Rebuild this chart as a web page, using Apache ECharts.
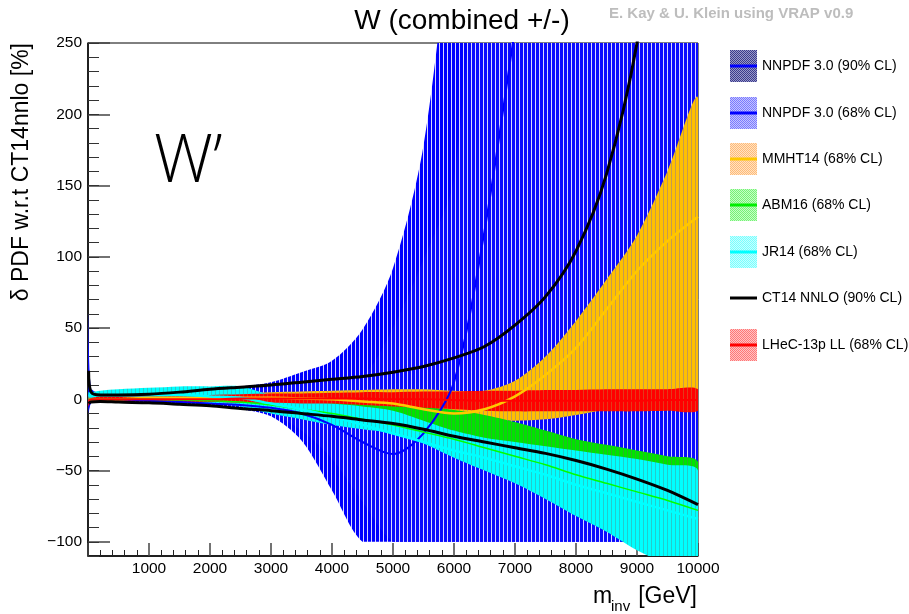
<!DOCTYPE html>
<html><head><meta charset="utf-8">
<script src="https://cdn.jsdelivr.net/npm/echarts@6/dist/echarts.min.js"></script>
<style>html,body{margin:0;padding:0;background:#fff}#c{width:909px;height:614px}</style>
</head><body><div id="c"></div>
<script>
// ---- data (m_inv in GeV, delta PDF in %) ----
const mass = [10, 50, 200, 500, 1000, 1500, 2000, 2500, 3000, 3500, 4000, 4500, 5000, 5500, 6000, 6500, 7000, 7500, 8000, 8500, 9000, 9500, 10000];

const nnpdf90Up = [60, 8, 4, 3, 4, 5, 7, 9, 12, 19, 27, 49, 92, 178, 350, 500, 650, 800, 950, 1100, 1250, 1400, 1550];
const nnpdf90Lo = [-10, -3, -2, -2, -3, -4, -5, -7, -12, -29, -64, -100, -100, -100, -100, -100, -100, -100, -100, -100, -100, -100, -100];
const nnpdf68Up = [40, 5, 3, 2, 3, 4, 5, 6, 8, 11, 14, 16, 50, 98, 155, 400, 550, 700, 850, 1000, 1150, 1300, 1450];
const nnpdf68Lo = [-8, -2, -1.5, -1.5, -2, -3, -4, -6, -10, -22, -42, -72, -100, -100, -100, -100, -100, -100, -100, -100, -100, -100, -100];
const nnpdfCen  = [0, 0, 0, 0, -1, -2, -3, -4, -6, -10, -18, -30, -38.5, -24, 12, 118, 260, 400, 550, 700, 850, 1000, 1150];

const mmhtUp  = [1, 1, 1, 1, 3, 3.5, 4, 4.5, 5, 5.5, 6, 6.5, 7, 7, 6, 6, 13, 30, 55, 84, 115, 160, 211];
const mmhtLo  = [-1, -1, -1, -1, -1, -1.5, -2, -2.5, -3, -3.5, -4, -5, -6, -8, -10, -14, -15, -14, -11, -7, -3, 0, 2];
const mmhtCen = [0, 0, 0, 0, 1, 1, 1, 1, 1, 0.5, 0, -1.5, -3, -7, -10, -7, 2, 17, 36, 63, 90, 111, 128];

const abmUp  = [1, 1, 1, 1, 2, 2, 2, 1.5, 1, 0, -0.5, -1.5, -3, -5, -7.5, -11, -16, -22, -28, -32, -36, -40, -44];
const abmLo  = [-1, -1, -1, -1, -1, -1.5, -2, -3, -6, -9, -13, -17, -21, -28, -35, -43, -51, -59, -67, -75, -82, -90, -96];
const abmCen = [0, 0, 0, 0, 0, -0.5, -1, -2, -4, -7, -10, -14, -18, -23, -28, -34, -40, -46, -53, -59, -65, -71, -78];

const jrUp  = [5, 5, 6, 7, 8, 9, 9, 9, 3, -1, -3, -5, -8, -15, -22, -27, -30, -33, -36, -39, -42, -46, -50];
const jrLo  = [-1, -1, -1, -1, -1, -2, -3, -5, -10, -14, -18, -21, -24, -31, -41, -50, -59, -70, -82, -93, -106, -116, -125];
const jrCen = [2, 2, 3, 3, 3, 3, 2, 1, -3, -7, -12, -18, -24, -30, -36, -41, -47, -53, -60, -66, -72, -78, -84];

const ctUp = [20, 5, 3, 3, 3.5, 5, 7, 8.5, 10, 12, 14, 16, 19, 23, 29, 37, 52, 72, 104, 158, 250, 400, 600];
const ctLo = [-3, -2, -1.5, -2, -2.5, -3.5, -4.5, -6.5, -8, -10, -12, -14.5, -17, -21, -26, -30, -34, -38, -43, -49, -56, -64, -74];

const lhecUp  = [2, 2, 2, 2, 2, 2.5, 3, 3.5, 4, 4, 4.5, 5, 5, 5.5, 5.5, 6, 6, 6.5, 6.5, 7, 7, 7, 7];
const lhecLo  = [-5, -2, -1.5, -1.5, -1.5, -2, -2, -2.5, -2.5, -3, -3, -4, -5, -6, -7, -8, -8.5, -8.5, -8.5, -8.5, -8.5, -8, -8];
const lhecCen = [-1, 0, 0, 0, 0, 0, 0, 0.5, 0.5, 0.5, 0.5, 0.5, 0, 0, -0.5, -1, -1, -1, -1, -1, -1, -0.5, -0.5];

const yTicks = [-100, -50, 0, 50, 100, 150, 200, 250];
const legendNames = ['NNPDF 3.0 (90% CL)', 'NNPDF 3.0 (68% CL)', 'MMHT14 (68% CL)', 'ABM16 (68% CL)', 'JR14 (68% CL)', 'CT14 NNLO (90% CL)', 'LHeC-13p LL (68% CL)'];

// ---- styling helpers ----
function stripes(c, g) {
  const cv = document.createElement('canvas'); cv.width = 4; cv.height = 4;
  const x = cv.getContext('2d');
  x.fillStyle = g; x.fillRect(0, 0, 4, 4);
  x.fillStyle = c; x.fillRect(0, 0, 3, 4);
  return { image: cv, repeat: 'repeat' };
}
function checker(c, g) {
  const cv = document.createElement('canvas'); cv.width = 2; cv.height = 2;
  const x = cv.getContext('2d');
  x.fillStyle = g; x.fillRect(0, 0, 2, 2);
  x.fillStyle = c; x.fillRect(0, 0, 1, 1); x.fillRect(1, 1, 1, 1);
  return { image: cv, repeat: 'repeat' };
}

function band(name, lo, hi, fill, floorVal) {
  return {
    type: 'custom', name: name,
    data: mass.map((m, i) => [m, lo[i], hi[i]]),
    encode: { x: 0, y: [1, 2] },
    renderItem: function (params, api) {
      if (params.dataIndex !== 0) return null;
      const pts = [];
      for (let i = 0; i < mass.length; i++) pts.push(api.coord([mass[i], hi[i]]));
      for (let i = mass.length - 1; i >= 0; i--) pts.push(api.coord([mass[i], lo[i]]));
      const cs = params.coordSys;
      const shape = { points: pts, smooth: 0.3 };
      if (floorVal !== undefined) {
        const yb = api.coord([0, floorVal])[1];
        shape.smoothConstraint = [[-1e5, -1e6], [1e5, yb]];
      }
      return {
        type: 'polygon', shape: shape, style: { fill: fill },
        clipPath: { type: 'rect', shape: { x: cs.x, y: cs.y, width: cs.width, height: cs.height } }
      };
    }
  };
}
function line(name, vals, color, w) {
  return {
    type: 'line', name: name, data: mass.map((m, i) => [m, vals[i]]),
    showSymbol: false, clip: true, smooth: 0.3,
    lineStyle: { color: color, width: w }, itemStyle: { color: color }
  };
}

const series = [
  band(legendNames[0], nnpdf90Lo, nnpdf90Up, stripes('#0000ff', '#d8d8ff'), -100),
  band(legendNames[1], nnpdf68Lo, nnpdf68Up, stripes('#0a0aff', '#d8d8ff'), -100),
  band(legendNames[2], mmhtLo, mmhtUp, stripes('#ffc000', '#c49a50')),
  band(legendNames[3], abmLo, abmUp, stripes('#00e400', '#28b428')),
  band(legendNames[4], jrLo, jrUp, stripes('#00ffff', '#22cccc')),
  band(legendNames[6], lhecLo, lhecUp, stripes('#ff0000', '#e43a1a')),
  line(legendNames[1], nnpdfCen, '#0000ff', 2),
  line(legendNames[2], mmhtCen, '#ffc800', 2.5),
  line(legendNames[3], abmCen, '#00ff00', 1.5),
  line(legendNames[4], jrCen, '#00ffff', 2.5),
  line(legendNames[6], lhecCen, '#ff0000', 2),
  line(legendNames[5] + ' up', ctUp, '#000000', 3),
  line(legendNames[5] + ' down', ctLo, '#000000', 3)
];

// ---- legend (drawn as graphics) ----
const legFill = [checker('#3a3a8c', '#9a9ac8'), checker('#7a7aff', '#c4c4ff'), checker('#ffbb77', '#ffe2c4'),
                 checker('#77f077', '#c4ffc4'), checker('#77ffff', '#c8ffff'), null, checker('#ff7777', '#ffc4c4')];
const legLine = ['#0000ff', '#0000ff', '#ffc800', '#00ee00', '#00ffff', '#000000', '#ff0000'];
const legY = [66, 113, 159, 205, 252, 298, 345];
const graphics = [];
legendNames.forEach((n, i) => {
  if (legFill[i]) graphics.push({ type: 'rect', shape: { x: 730, y: legY[i] - 16, width: 27, height: 32 }, style: { fill: legFill[i] } });
  graphics.push({ type: 'line', shape: { x1: 730, y1: legY[i], x2: 757, y2: legY[i] }, style: { stroke: legLine[i], lineWidth: 3 } });
  graphics.push({ type: 'text', x: 762, y: legY[i], style: { text: n, font: '14px "Liberation Sans", Arial, sans-serif', fill: '#000', textVerticalAlign: 'middle' } });
});
graphics.push(
  { type: 'text', x: 462, y: 35, style: { text: 'W (combined +/-)', font: '28px "Liberation Sans", Arial, sans-serif', fill: '#000', textAlign: 'center', textVerticalAlign: 'bottom' } },
  { type: 'text', x: 609, y: 14, style: { text: 'E. Kay & U. Klein using VRAP v0.9', font: 'bold 15px "Liberation Sans", Arial, sans-serif', fill: '#bdbdbd', textVerticalAlign: 'middle' } },
  { type: 'text', x: 154, y: 196, style: { text: 'W\u2019', font: '300 66px "Open Sans", Lato, sans-serif', fill: '#000', textVerticalAlign: 'bottom' } },
  { type: 'text', x: 22, y: 43, rotation: Math.PI / 2, style: { text: '\u03b4 PDF w.r.t CT14nnlo [%]', font: '23px "Liberation Sans", Arial, sans-serif', fill: '#000', textAlign: 'right', textVerticalAlign: 'middle' } },
  { type: 'text', x: 593, y: 608, style: { text: 'm', font: '23px "Liberation Sans", Arial, sans-serif', fill: '#000', textVerticalAlign: 'bottom' } },
  { type: 'text', x: 611, y: 614, style: { text: 'inv', font: '15px "Liberation Sans", Arial, sans-serif', fill: '#000', textVerticalAlign: 'bottom' } },
  { type: 'text', x: 697, y: 608, style: { text: '[GeV]', font: '23px "Liberation Sans", Arial, sans-serif', fill: '#000', textAlign: 'right', textVerticalAlign: 'bottom' } }
);

const lblFont = { fontFamily: '"Liberation Sans", Arial, sans-serif', fontSize: 15.5, color: '#000' };
const option = {
  animation: false,
  backgroundColor: '#fff',
  grid: { left: 88, top: 43, right: 211, bottom: 58, show: true, borderColor: '#000', borderWidth: 1, backgroundColor: 'transparent' },
  xAxis: {
    type: 'value', min: 0, max: 10000, interval: 1000,
    axisLine: { show: true, onZero: false, lineStyle: { color: '#000', width: 1.5 } },
    axisTick: { show: true, inside: true, length: 13, lineStyle: { color: '#444', width: 1.5 } },
    minorTick: { show: true, splitNumber: 5, length: 6, lineStyle: { color: '#222', width: 1 } },
    splitLine: { show: false },
    axisLabel: Object.assign({ margin: 5, formatter: v => v === 0 ? '' : String(v) }, lblFont)
  },
  yAxis: [
    {
      type: 'value', min: -110, max: 250, position: 'left',
      axisLine: { show: true, onZero: false, lineStyle: { color: '#000', width: 1.5 } },
      axisTick: { show: true, inside: true, length: 22, customValues: yTicks, lineStyle: { color: '#444', width: 1.5 } },
      axisLabel: Object.assign({ margin: 6, customValues: yTicks, formatter: v => String(v).replace('-', '\u2212') }, lblFont),
      splitLine: { show: false }
    },
    {
      type: 'value', min: -110, max: 250, interval: 10, position: 'left', offset: 0,
      axisLine: { show: false },
      axisTick: { show: true, inside: true, length: 11, lineStyle: { color: '#333', width: 1 } },
      axisLabel: { show: false },
      splitLine: { show: false }
    }
  ],
  series: series,
  graphic: graphics
};
const chart = echarts.init(document.getElementById('c'));
chart.setOption(option);
</script>
</body></html>
